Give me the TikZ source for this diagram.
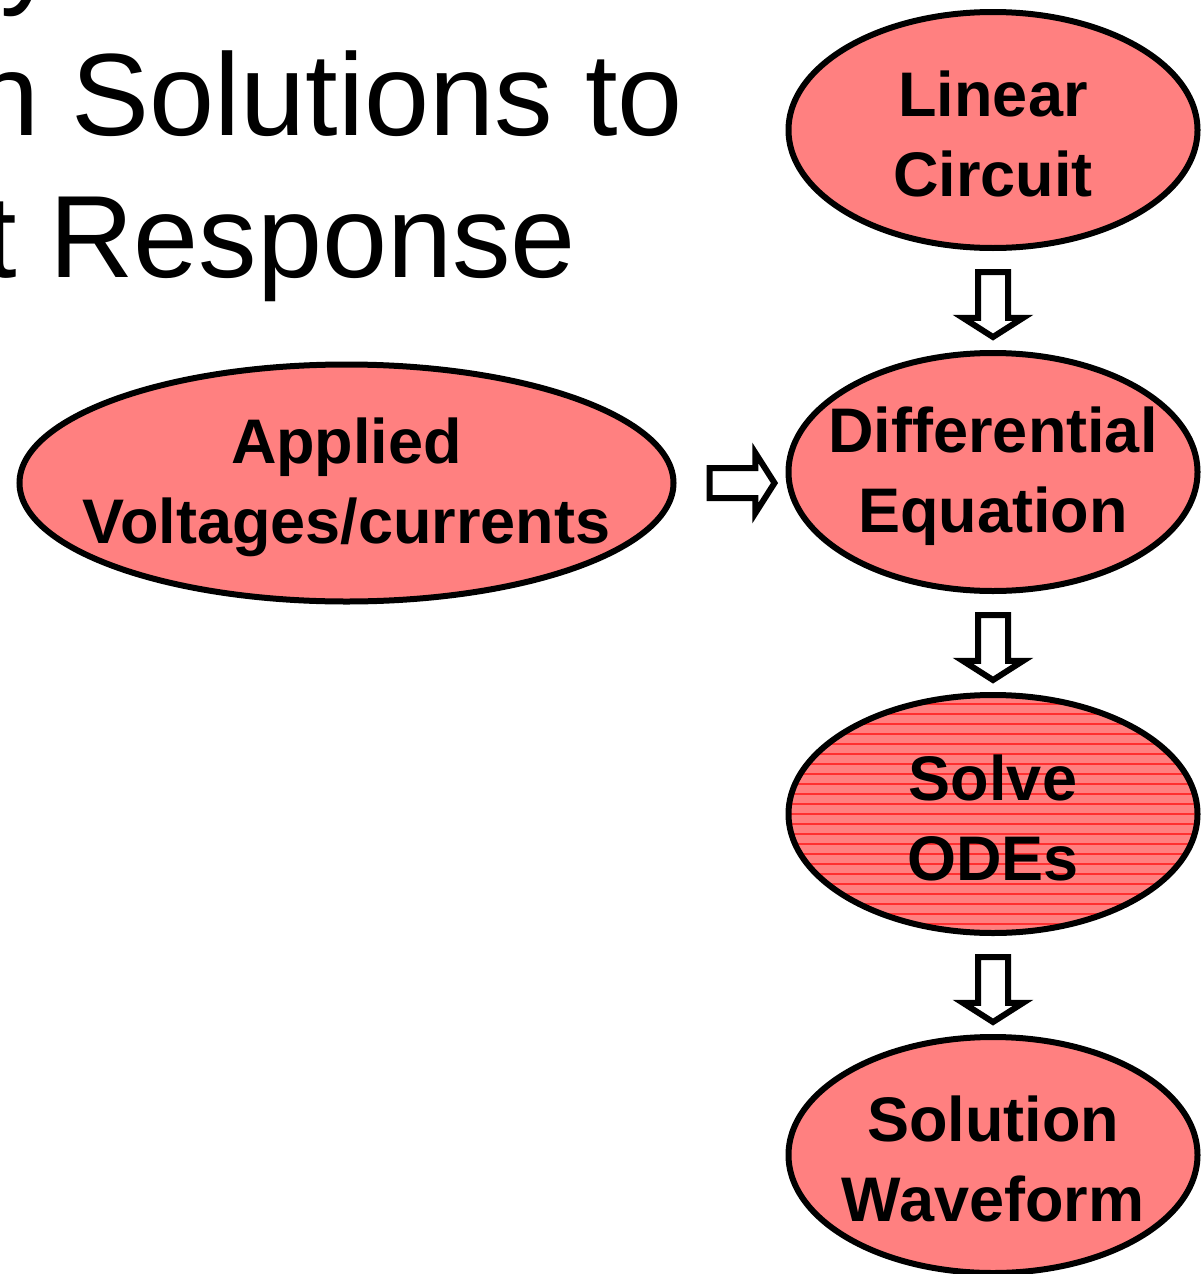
\documentclass[tikz,border=0pt]{standalone}
\usepackage{fontspec}
\setmainfont{Liberation Sans}
\usepackage{tikz}
\usetikzlibrary{shapes.geometric}
\usetikzlibrary{shapes.arrows}
\usetikzlibrary{calc}
\definecolor{stagefill}{HTML}{FF8080}
\definecolor{hatchred}{HTML}{FF3030}

\begin{document}
\begin{tikzpicture}[x=1pt,y=-1pt,
	stage/.style={draw,shape=ellipse,line width=6pt,fill=stagefill,inner sep=0pt,minimum width=409pt,minimum height=236pt},
	stagetext/.style={align=center,inner sep=0pt,yshift=-4pt,font=\fontsize{63}{80}\selectfont\bfseries},
	hatched/.style={path picture={\foreach \k in {-120,-110,...,120}
		\draw[hatchred,line width=1.2pt] ([yshift=\k pt]path picture bounding box.west) -- ([yshift=\k pt]path picture bounding box.east);}},
	flow/.style={draw,shape=single arrow,line width=6pt,fill=white,inner sep=12pt,minimum height=65pt,minimum width=0pt,single arrow head extend=15pt,single arrow tip angle=115,anchor=tail},
	titleline/.style={anchor=base west,inner sep=0pt,font=\fontsize{117}{142}\selectfont}]
	\useasboundingbox (0,0) rectangle (1202,1274);
	\clip (0,0) rectangle (1202,1274);
	\node[titleline] (t0) at (  0, -7) {y};
	\node[titleline] (t1) at (-26,135) {n Solutions to};
	\node[titleline] (t2) at (-16,277) {t Response};
	\node[stage,label={[stagetext]center:{Linear\\Circuit}}] (lin) at (993,130) {};
	\node[stage,minimum height=238pt,label={[stagetext]center:{Differential\\Equation}}] (deq) at (993,472) {};
	\node[stage,hatched,minimum height=238pt,label={[stagetext]center:{Solve\\ODEs}}] (slv) at (993,814) {};
	\node[stage,label={[stagetext]center:{Solution\\Waveform}}] (sol) at (993,1155) {};
	\node[stage,minimum width=654pt,minimum height=237pt,label={[stagetext]center:{Applied\\Voltages/currents}}] (app) at (346.5,483) {};
	\node[flow,rotate=-90] (a1) at ($(lin.south)+(0,18)$) {};
	\node[flow,rotate=-90] (a2) at ($(deq.south)+(0,18)$) {};
	\node[flow,rotate=-90] (a3) at ($(slv.south)+(0,18)$) {};
	\node[flow] (a4) at ($(app.east)+(30,0)$) {};
\end{tikzpicture}
\end{document}
